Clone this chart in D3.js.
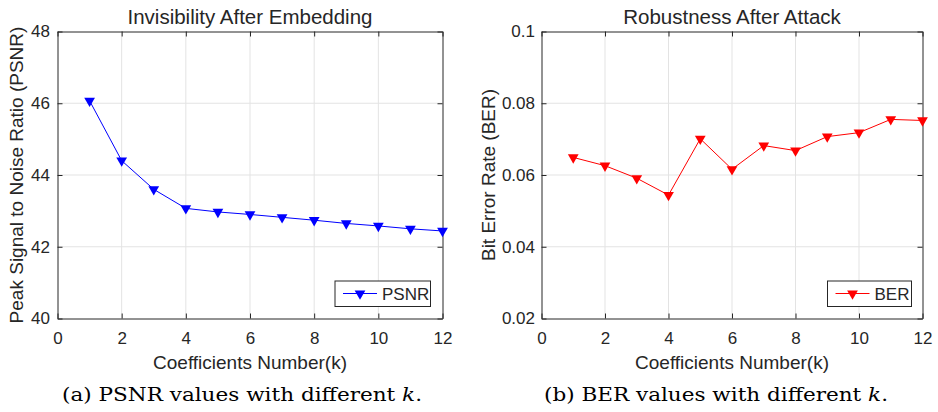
<!DOCTYPE html>
<html>
<head>
<meta charset="utf-8">
<script src="https://cdn.jsdelivr.net/npm/d3@7"></script>
<style>
  body { margin: 0; background: #fff; }
  svg text { font-family: "Liberation Sans", Arial, Helvetica, sans-serif; fill: #262626; }
  .caption { font-family: "DejaVu Serif", "Liberation Serif", serif; fill: #000; }
</style>
</head>
<body>
<svg id="chart" width="938" height="412"></svg>
<script>
// Data
const k = [1, 2, 3, 4, 5, 6, 7, 8, 9, 10, 11, 12];
const psnr = [46.07, 44.40, 43.60, 43.07, 42.97, 42.90, 42.82, 42.74, 42.65, 42.58, 42.50, 42.44];
const ber = [0.0649, 0.0626, 0.0591, 0.0544, 0.0701, 0.0616, 0.0682, 0.0668, 0.0707, 0.0718, 0.0755, 0.0752];
const xTicks = [0, 2, 4, 6, 8, 10, 12];
const psnrTicks = [40, 42, 44, 46, 48];
const berTicks = [0.02, 0.04, 0.06, 0.08, 0.1];

const svg = d3.select("#chart");

// one panel of the figure
function drawPanel(opt) {
    const x = d3.scaleLinear().domain([0, 12]).range([opt.left, opt.right]);
    const y = d3.scaleLinear().domain(opt.yDomain).range([318.5, 31.5]);
    const g = svg.append("g");

    // grid
    g.selectAll(".gx").data(xTicks.slice(1, -1)).enter().append("line")
        .attr("x1", d => x(d)).attr("x2", d => x(d))
        .attr("y1", y.range()[0]).attr("y2", y.range()[1])
        .attr("stroke", "#e3e3e3").attr("stroke-width", 1);
    g.selectAll(".gy").data(opt.yTicks.slice(1, -1)).enter().append("line")
        .attr("x1", opt.left).attr("x2", opt.right)
        .attr("y1", d => y(d)).attr("y2", d => y(d))
        .attr("stroke", "#e3e3e3").attr("stroke-width", 1);

    // axes (ticks point inward, box on)
    const fontSize = "17px";
    const bottom = g.append("g").attr("transform", `translate(0,${y.range()[0]})`)
        .call(d3.axisBottom(x).tickValues(xTicks).tickSizeInner(-5).tickSizeOuter(0).tickPadding(13));
    const top = g.append("g").attr("transform", `translate(0,${y.range()[1]})`)
        .call(d3.axisTop(x).tickValues(xTicks).tickSizeInner(-5).tickSizeOuter(0).tickFormat(""));
    const left = g.append("g").attr("transform", `translate(${opt.left},0)`)
        .call(d3.axisLeft(y).tickValues(opt.yTicks).tickSizeInner(-5).tickSizeOuter(0).tickPadding(opt.yPad).tickFormat(opt.fmt));
    const right = g.append("g").attr("transform", `translate(${opt.right},0)`)
        .call(d3.axisRight(y).tickValues(opt.yTicks).tickSizeInner(-5).tickSizeOuter(0).tickFormat(""));
    [bottom, top, left, right].forEach(a => {
        a.select(".domain").attr("stroke", "#262626");
        a.selectAll(".tick line").attr("stroke", "#262626");
        a.selectAll("text").style("font-size", fontSize).attr("fill", "#262626")
            .style("font-family", "'Liberation Sans', Arial, sans-serif");
    });

    // series
    const line = d3.line().x((d, i) => x(k[i])).y(d => y(d));
    g.append("path").datum(opt.values)
        .attr("d", line).attr("fill", "none")
        .attr("stroke", opt.color).attr("stroke-width", 1);
    const tri = d3.symbol().type(d3.symbolTriangle).size(50);
    g.selectAll(".m").data(opt.values).enter().append("path")
        .attr("d", tri)
        .attr("transform", (d, i) => `translate(${x(k[i])},${y(d)}) rotate(180)`)
        .attr("fill", opt.color);

    // title & axis labels
    const cx = (opt.left + opt.right) / 2;
    g.append("text").attr("x", cx).attr("y", 24).attr("text-anchor", "middle")
        .style("font-size", "20.5px").text(opt.title);
    g.append("text").attr("x", cx).attr("y", 369).attr("text-anchor", "middle")
        .style("font-size", "19px").text("Coefficients Number(k)");
    g.append("text")
        .attr("transform", `translate(${opt.ylabelX},175) rotate(-90)`)
        .attr("text-anchor", "middle")
        .style("font-size", "19px").text(opt.ylabel);

    // legend
    const lg = g.append("g");
    lg.append("rect").attr("x", opt.legend[0]).attr("y", 281)
        .attr("width", opt.legend[1] - opt.legend[0]).attr("height", 25.5)
        .attr("fill", "#fff").attr("stroke", "#262626").attr("stroke-width", 1);
    const lx = opt.legend[0] + 8;
    lg.append("line").attr("x1", lx).attr("x2", lx + 34)
        .attr("y1", 293.5).attr("y2", 293.5)
        .attr("stroke", opt.color).attr("stroke-width", 1);
    lg.append("path").attr("d", tri)
        .attr("transform", `translate(${lx + 17},293.5) rotate(180)`)
        .attr("fill", opt.color);
    lg.append("text").attr("x", lx + 39).attr("y", 300)
        .style("font-size", "17px").attr("fill", "#000").text(opt.name);

    // caption
    g.append("text").attr("class", "caption")
        .attr("x", opt.capX).attr("y", 401)
        .attr("textLength", opt.capW).attr("lengthAdjust", "spacingAndGlyphs")
        .style("font-size", "19px")
        .html(opt.caption);
}

drawPanel({
    left: 57.5, right: 442.5, yDomain: [40, 48], yTicks: psnrTicks, fmt: d3.format("d"), yPad: 7.5,
    values: psnr, color: "#0000ff", title: "Invisibility After Embedding",
    ylabel: "Peak Signal to Noise Ratio (PSNR)", ylabelX: 23, legend: [335, 430.5], name: "PSNR",
    caption: '(a) PSNR values with different <tspan font-style="italic">k</tspan>.', capX: 62, capW: 360
});

drawPanel({
    left: 541.5, right: 922.5, yDomain: [0.02, 0.1], yTicks: berTicks, fmt: d => d === 0.1 ? "0.1" : d3.format(".2f")(d), yPad: 6.5,
    values: ber, color: "#ff0000", title: "Robustness After Attack",
    ylabel: "Bit Error Rate (BER)", ylabelX: 495, legend: [827.5, 911.5], name: "BER",
    caption: '(b) BER values with different <tspan font-style="italic">k</tspan>.', capX: 544, capW: 344
});
</script>
</body>
</html>
